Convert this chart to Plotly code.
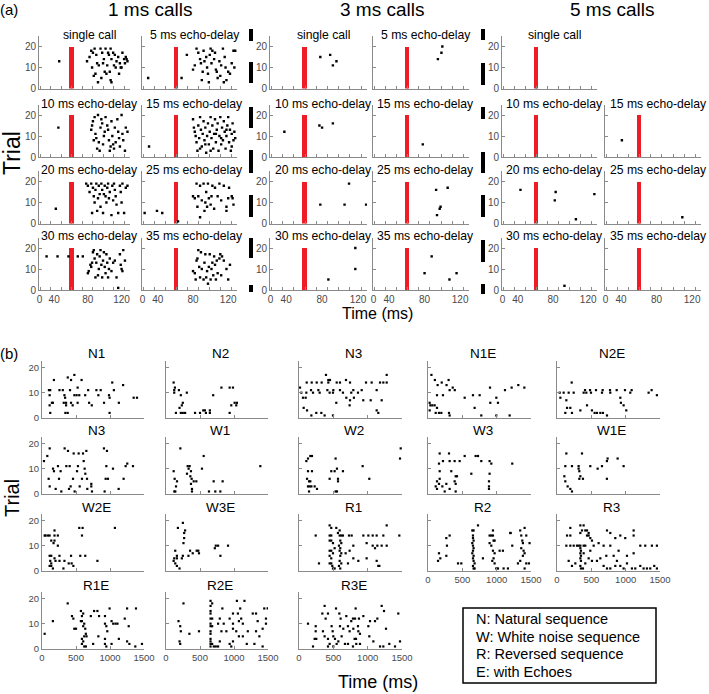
import plotly.graph_objects as go

# ---------------- DATA : panel (a) ----------------  (time in ms, trial number)
ms1_single = [(46,13),(79,13),(82,15),(84,18),(86,17),(88,19),(90,16),(91,12),(93,11),(95,19),(97,17),(99,14),(100,8),(102,7),(104,17),(105,16),(107,19),(108,14),(110,17),(111,11),(112,16),(114,13),(116,15),(118,12),(120,10),(121,17),(123,14),(125,15),(127,13),(87,6),(89,7),(92,3),(106,8),(107,4),(108,3),(98,12),(103,11),(117,7),(119,10),(124,12),(126,14),(96,5),(85,10),(113,10),(101,19)]
ms1_d5 = [(29,5),(67,5),(73,16),(80,9),(82,11),(84,19),(86,17),(88,14),(89,12),(90,4),(92,18),(93,13),(95,15),(96,10),(97,7),(98,3),(99,16),(101,12),(102,18),(104,14),(105,17),(106,9),(108,5),(110,13),(111,6),(112,11),(114,19),(116,15),(117,10),(118,4),(120,8),(122,7),(124,12),(126,18),(128,18),(127,10),(115,3),(107,8),(91,8),(100,19)]
ms1_d10 = [(45,14),(84,13),(85,15),(86,17),(88,19),(89,11),(90,9),(91,4),(92,20),(94,3),(95,14),(96,18),(97,16),(98,6),(99,10),(100,12),(101,19),(103,15),(104,13),(105,8),(106,3),(107,5),(108,17),(109,10),(110,6),(111,4),(112,14),(113,7),(115,18),(116,12),(117,9),(118,5),(120,20),(121,11),(122,8),(124,3),(125,14),(127,12),(87,8),(93,7)]
ms1_d15 = [(30,5),(80,18),(82,12),(83,10),(84,7),(85,3),(86,15),(87,9),(88,19),(89,13),(90,5),(91,11),(92,17),(93,8),(94,14),(95,2),(96,10),(97,16),(98,6),(99,12),(100,19),(101,9),(102,15),(103,4),(104,11),(105,18),(106,7),(107,13),(108,16),(109,3),(110,10),(111,19),(112,6),(113,14),(114,8),(115,17),(116,12),(117,4),(118,10),(119,15),(120,19),(121,7),(122,13),(123,3),(124,11),(125,16),(126,8),(127,12),(128,9),(81,14),(88,4),(94,6),(100,3),(106,11),(112,9),(118,13),(124,5)]
ms1_d20 = [(42,7),(78,19),(80,18),(82,15),(84,19),(86,17),(87,13),(88,10),(89,16),(90,19),(91,6),(92,12),(93,18),(94,14),(95,8),(96,19),(97,16),(98,5),(100,18),(101,13),(102,10),(103,17),(104,19),(105,12),(106,15),(108,4),(109,18),(110,11),(111,19),(112,16),(113,13),(114,9),(116,5),(118,18),(119,15),(120,10),(121,19),(123,5),(125,17),(127,18),(85,5),(99,14)]
ms1_d25 = [(25,5),(39,6),(45,5),(63,1),(80,13),(82,12),(84,19),(86,13),(88,18),(90,11),(92,19),(93,6),(94,10),(95,15),(96,8),(97,19),(98,12),(100,9),(101,13),(102,18),(104,7),(105,17),(108,13),(110,19),(112,11),(115,18),(118,6),(118,8),(120,12),(121,17),(124,13),(125,12),(126,9),(85,8),(88,3)]
ms1_d30 = [(31,16),(44,16),(57,16),(68,16),(74,16),(80,8),(81,9),(83,12),(84,11),(86,18),(87,19),(88,15),(89,6),(90,13),(91,17),(92,7),(93,10),(94,16),(95,19),(96,12),(97,6),(98,14),(99,18),(100,11),(101,8),(102,17),(103,13),(104,6),(106,15),(108,9),(110,13),(112,14),(114,6),(116,1),(118,17),(119,12),(120,10),(121,9),(122,19),(124,14),(85,13),(105,10)]
ms1_d35 = [(80,9),(82,8),(83,5),(84,14),(86,19),(87,11),(88,6),(89,18),(90,10),(92,5),(93,13),(94,17),(95,6),(96,9),(98,11),(99,17),(100,5),(102,13),(103,7),(104,16),(105,12),(106,5),(107,14),(108,8),(110,15),(111,17),(112,7),(113,16),(115,14),(118,10),(120,5),(122,12),(85,15),(97,3),(101,10)]

ms3_single = [(78,15),(89,16),(92,11),(96,13)]
ms3_d5 = [(95,14),(99,17),(100,20)]
ms3_d10 = [(38,12),(77,15),(80,14),(92,16)]
ms3_d15 = [(78,6)]
ms3_d20 = [(78,9),(105,9),(129,9),(110,19)]
ms3_d25 = [(93,16),(106,17),(98,8),(97,7),(94,4)]
ms3_d30 = [(117,20),(117,10),(87,5)]
ms3_d35 = [(88,16),(80,8),(108,5),(116,8)]

ms5_single = []
ms5_d10 = []
ms5_d15 = [(41,8)]
ms5_d20 = [(43,16),(83,15),(82,11),(106,2),(127,14)]
ms5_d25 = [(109,3)]
ms5_d30 = [(93,2)]
ms5_d35 = []

call_center_ms = 60.5      # emitted call marker (red bar)
call_width_ms = 5
call_height_trials = 20

a_group_titles = ["1 ms calls", "3 ms calls", "5 ms calls"]
a_x_ticktext = ["0", "40", "80", "120"]
a_x_tickvals = [22.5, 40, 80, 120]

# ---------------- DATA : panel (b) ----------------
bN1 = [(175,15),(379,16),(427,15),(476,17),(582,15),(102,11),(121,11),(257,11),(306,11),(412,11),(524,12),(679,11),(800,11),(863,11),(1033,14),(1057,11),(1193,13),(112,9),(146,6),(160,6),(112,5),(121,2),(330,9),(340,8),(354,6),(354,5),(320,6),(344,2),(378,2),(427,6),(451,5),(476,9),(509,9),(524,6),(548,9),(635,9),(693,6),(732,5),(829,9),(912,6),(985,9),(994,2),(994,8),(1130,6),(1348,8),(1397,8)]
bN2 = [(112,14),(121,11),(131,12),(190,11),(815,12),(936,12),(985,12),(121,10),(218,9),(247,6),(233,5),(199,4),(146,2),(218,2),(306,10),(247,2),(281,2),(427,2),(500,2),(548,3),(572,3),(587,2),(645,2),(645,3),(936,2),(960,5),(1033,5),(1009,6),(1043,6),(694,9)]
bN3 = [(112,14),(185,14),(258,14),(330,14),(427,14),(549,14),(597,14),(743,14),(976,14),(1058,14),(1180,14),(1228,14),(1277,14),(393,17),(427,15),(451,15),(684,15),(1277,17),(15,12),(175,11),(282,11),(413,11),(500,11),(597,11),(791,11),(913,11),(1131,11),(34,10),(107,10),(204,10),(301,10),(446,10),(495,10),(640,10),(761,10),(859,10),(58,8),(97,8),(68,4),(117,3),(180,1),(252,2),(325,2),(373,1),(495,1),(543,6),(689,8),(737,5),(800,8),(743,7),(936,7),(1044,7),(1204,7),(1131,3),(1155,2)]
bN1E = [(903,12),(1121,11),(1218,12),(1315,13),(1403,12),(131,9),(218,9),(315,11),(24,6),(34,5),(63,5),(97,5),(131,4),(24,3),(160,2),(112,2),(194,2),(315,1),(306,2),(534,8),(655,9),(752,9),(679,4),(907,6),(995,8),(1019,6),(776,1),(995,1),(1189,1),(50,17),(100,15),(200,14),(270,13),(300,15),(360,12),(390,11),(140,13)]
bN2E = [(214,14),(408,11),(481,11),(568,11),(665,11),(772,11),(869,11),(990,11),(1087,11),(1378,11),(39,10),(97,10),(170,10),(243,10),(388,10),(427,10),(495,10),(655,10),(776,10),(922,8),(931,6),(970,5),(1009,3),(49,8),(136,7),(146,4),(194,4),(121,2),(218,2),(340,3),(437,5),(509,3),(548,2),(582,2),(631,2),(669,2),(728,1),(1067,10),(1334,10),(1455,9)]
bN3b = [(29,13),(78,15),(113,18),(98,6),(113,3),(162,10),(176,9),(201,2),(235,11),(250,6),(274,9),(284,1),(333,18),(358,11),(382,17),(397,2),(407,11),(421,3),(456,6),(466,16),(480,1),(515,9),(529,11),(539,16),(554,3),(588,6),(603,16),(613,13),(627,10),(637,8),(652,17),(662,6),(666,2),(725,3),(735,1),(725,4),(911,18),(921,1),(936,6),(946,11),(955,17),(970,6),(1044,10),(1127,2),(1200,6),(1230,11),(1254,12),(1338,11)]
bW1 = [(211,18),(113,9),(127,6),(147,3),(162,5),(122,1),(137,1),(309,8),(319,11),(333,10),(348,11),(367,9),(358,7),(377,6),(367,4),(382,2),(382,1),(407,5),(446,5),(529,10),(554,15),(632,1),(701,5),(725,1),(799,1),(833,5),(1387,11)]
bW2 = [(107,13),(131,14),(165,15),(189,15),(131,9),(189,9),(117,6),(146,5),(165,5),(131,3),(155,3),(180,3),(146,1),(228,3),(262,2),(446,6),(470,9),(519,9),(533,14),(553,10),(568,6),(568,5),(533,1),(553,1),(640,9),(927,11),(1024,6),(1481,18),(1471,14)]
bW3 = [(170,16),(306,16),(160,12),(218,13),(315,13),(388,13),(461,13),(534,15),(694,15),(728,15),(776,13),(897,13),(922,12),(1227,12),(170,9),(339,9),(403,7),(422,7),(388,5),(170,6),(131,5),(112,3),(160,4),(209,3),(267,4),(315,2),(403,4),(131,2),(243,1),(403,1),(897,8),(888,5),(888,3),(888,2),(631,8)]
bW1E = [(136,16),(364,16),(121,11),(218,11),(315,11),(315,10),(325,9),(340,7),(378,6),(485,11),(592,10),(655,11),(727,13),(737,14),(883,14),(970,11),(727,6),(107,7),(121,5),(155,3),(194,2),(218,1),(325,6)]
bW2E = [(53,14),(112,14),(184,14),(136,12),(184,12),(170,11),(233,10),(112,6),(136,6),(121,4),(136,3),(112,2),(136,2),(160,1),(184,5),(199,4),(257,4),(257,6),(330,4),(393,3),(315,1),(427,6),(436,3),(461,2),(588,14),(563,6),(636,6),(815,4),(184,16),(233,14),(87,14),(548,17),(597,17),(1072,17),(39,14)]
bW3E = [(136,8),(160,6),(160,5),(112,4),(121,5),(136,3),(160,2),(199,1),(233,5),(248,6),(257,11),(267,13),(267,15),(281,16),(330,6),(354,8),(393,7),(451,8),(475,8),(485,7),(718,9),(732,10),(766,10),(800,6),(912,10),(248,19),(175,17)]
bR1 = [(243,14),(446,14),(470,14),(446,12),(470,12),(495,11),(519,9),(446,8),(470,8),(495,7),(446,6),(470,5),(446,3),(470,3),(485,2),(495,1),(519,1),(567,15),(592,14),(601,12),(616,11),(582,10),(601,9),(592,8),(616,7),(601,6),(592,4),(616,3),(582,2),(601,1),(679,7),(728,14),(737,8),(713,3),(291,3),(767,14),(937,14),(1010,14),(1073,14),(1131,14),(1228,14),(1461,14),(1277,10),(791,10),(985,11),(1073,10),(1141,10),(1204,10),(791,5),(864,4),(985,5),(1131,4),(1155,2),(1170,2),(1107,9),(446,18),(470,17),(543,17),(592,16),(616,14),(640,14),(1277,18)]
bR2 = [(267,13),(276,10),(160,7),(179,5),(146,4),(267,6),(437,3),(485,3),(645,16),(655,14),(655,13),(664,12),(645,11),(655,10),(664,9),(655,8),(645,7),(664,6),(655,5),(664,4),(679,3),(655,2),(664,1),(679,1),(800,5),(897,14),(922,14),(946,14),(955,12),(970,12),(897,11),(922,10),(946,8),(970,7),(955,5),(936,4),(970,3),(994,1),(1019,1),(1043,8),(1091,8),(1198,15),(1227,10),(1343,16),(1358,14),(1373,12),(1382,11),(1358,9),(1392,8),(1407,7),(1382,6),(1343,4),(1431,3),(1470,3),(1310,3),(1407,1),(1101,1),(1164,1),(1431,14),(1479,11),(728,18),(664,16),(946,16),(1407,17),(1203,15),(315,14)]
bR3 = [(194,14),(340,15),(364,16),(412,16),(437,14),(461,14),(485,13),(509,12),(146,14),(136,10),(194,10),(243,10),(291,10),(315,10),(340,10),(388,10),(412,10),(534,10),(606,11),(679,10),(776,10),(849,13),(922,14),(994,13),(1116,14),(1213,10),(1285,10),(1382,10),(1455,10),(340,9),(349,8),(340,7),(349,6),(340,5),(349,4),(340,2),(349,1),(378,1),(412,3),(461,5),(509,4),(582,4),(679,2),(728,1),(776,1),(849,2),(873,4),(922,2),(970,1),(1019,3),(1091,1),(1140,1),(1213,2),(1261,1),(1310,1),(1358,1),(1416,2),(1455,1),(170,4),(218,2),(267,3),(388,7),(485,8),(631,5),(718,6),(825,6),(897,8),(1019,6),(1116,7),(194,17),(340,18),(388,18),(437,16),(461,15),(728,16),(776,15),(1116,16)]
bR1E = [(378,18),(39,6),(160,11),(441,13),(461,12),(475,8),(500,8),(572,15),(587,13),(606,14),(572,11),(587,11),(621,10),(606,9),(636,8),(645,6),(621,5),(655,5),(587,4),(606,3),(587,2),(621,1),(645,1),(718,13),(766,15),(815,15),(839,13),(829,5),(752,2),(926,13),(994,16),(926,10),(946,9),(960,7),(926,4),(926,2),(946,1),(1023,11),(1047,10),(1081,10),(1110,10),(1023,2),(1130,4),(1217,12),(1251,16),(1275,9),(1251,3),(1285,2),(1382,16),(1372,1),(1470,2)]
bR2E = [(257,18),(184,11),(209,9),(218,7),(199,3),(209,2),(344,6),(485,7),(655,19),(655,17),(655,15),(655,14),(655,12),(655,10),(655,9),(655,7),(655,6),(655,4),(655,3),(655,2),(655,1),(679,18),(679,12),(679,9),(679,2),(703,1),(732,1),(766,1),(791,3),(791,12),(766,10),(829,16),(849,10),(815,7),(888,7),(985,8),(1072,5),(936,2),(960,1),(985,3),(1043,19),(1091,16),(1057,14),(1106,12),(1130,10),(936,12),(985,10),(1033,7),(1072,11),(985,14),(1130,5),(1154,19),(1276,14),(1324,7),(1348,11),(1373,5),(1421,8),(1470,12),(1495,16),(1445,16),(1324,14),(1203,7),(1300,2),(1188,2),(1421,1),(1470,10)]
bR3E = [(131,10),(243,9),(243,7),(252,4),(204,1),(228,4),(373,17),(340,14),(388,12),(422,14),(349,7),(373,5),(422,4),(446,2),(422,1),(475,9),(490,7),(500,5),(524,4),(548,2),(500,1),(539,16),(587,14),(606,12),(597,9),(645,8),(621,5),(573,3),(669,2),(689,13),(713,9),(737,7),(761,11),(786,12),(810,4),(834,2),(859,9),(873,12),(713,2),(786,1),(825,16),(816,12),(937,13),(1034,11),(1107,11),(1141,12),(1204,17),(1238,15),(1446,14),(791,8),(864,7),(888,6),(1010,9),(1267,8),(830,4),(888,2),(1024,5),(1083,3),(1180,1),(1228,1),(1315,2),(1398,1),(1471,3)]

b_x_ticks = [0, 500, 1000, 1500]
trial_ticks = [0, 10, 20]
legend_lines = ["N: Natural sequence", "W: White noise sequence", "R: Reversed sequence", "E: with Echoes"]

# ---------------- LAYOUT ----------------
W, H = 709, 694
FONT = "Liberation Sans, Arial, sans-serif"
GRAY = "#8a8a8a"
TICKC = "#4a4a4a"

def pxx(x): return x / W
def pxy(y): return 1 - y / H

fig = go.Figure()
layout = dict(width=W, height=H, margin=dict(l=0, r=0, t=0, b=0, autoexpand=False),
              paper_bgcolor="white", plot_bgcolor="white", showlegend=False,
              font=dict(family=FONT, color="black"), bargap=0)
annotations, shapes = [], []
counter = [0]

def add_panel(xpx, ybot, hpx, xr, yr, xcfg, ycfg, pts, msize, red=False):
    counter[0] += 1
    k = counter[0]
    s = "" if k == 1 else str(k)
    base = dict(showline=True, linecolor=GRAY, linewidth=1, showgrid=False, zeroline=False,
                ticks="inside", ticklen=3, tickcolor=GRAY, tickwidth=1, automargin=False,
                tickfont=dict(size=10, color=TICKC, family=FONT), fixedrange=True)
    xa = dict(base, domain=[pxx(xpx[0]), pxx(xpx[1])], range=xr, anchor="y" + s)
    ya = dict(base, domain=[pxy(ybot), pxy(ybot - hpx)], range=yr, anchor="x" + s)
    xa.update(xcfg); ya.update(ycfg)
    layout["xaxis" + s] = xa
    layout["yaxis" + s] = ya
    if red:
        fig.add_trace(go.Bar(x=[call_center_ms], y=[call_height_trials], width=[call_width_ms],
                             marker=dict(color="#ee1c25", line=dict(width=0)),
                             xaxis="x" + s, yaxis="y" + s, hoverinfo="skip"))
    if pts:
        fig.add_trace(go.Scatter(x=[p[0] for p in pts], y=[p[1] for p in pts], mode="markers",
                                 marker=dict(symbol="square", size=msize, color="black", line=dict(width=0)),
                                 xaxis="x" + s, yaxis="y" + s, hoverinfo="skip"))
    else:
        fig.add_trace(go.Scatter(x=[None], y=[None], mode="markers", xaxis="x" + s, yaxis="y" + s))

def text(x, y, t, size, **kw):
    d = dict(x=pxx(x), y=pxy(y), xref="paper", yref="paper", text=t, showarrow=False,
             font=dict(size=size, family=FONT, color=kw.pop("color", "black")),
             xanchor=kw.pop("xanchor", "center"), yanchor=kw.pop("yanchor", "middle"))
    d.update(kw)
    annotations.append(d)

# ---- panel (a)
a_cols = [(39, 130), (142, 237), (270, 367), (373, 469), (502, 597), (605, 701)]
a_bottoms = [88.5, 157, 223.5, 290]
a_h = 52.5
a_grid = [
    [("single call", ms1_single), ("5 ms echo-delay", ms1_d5), ("single call", ms3_single), ("5 ms echo-delay", ms3_d5), ("single call", ms5_single), None],
    [("10 ms echo-delay", ms1_d10), ("15 ms echo-delay", ms1_d15), ("10 ms echo-delay", ms3_d10), ("15 ms echo-delay", ms3_d15), ("10 ms echo-delay", ms5_d10), ("15 ms echo-delay", ms5_d15)],
    [("20 ms echo-delay", ms1_d20), ("25 ms echo-delay", ms1_d25), ("20 ms echo-delay", ms3_d20), ("25 ms echo-delay", ms3_d25), ("20 ms echo-delay", ms5_d20), ("25 ms echo-delay", ms5_d25)],
    [("30 ms echo-delay", ms1_d30), ("35 ms echo-delay", ms1_d35), ("30 ms echo-delay", ms3_d30), ("35 ms echo-delay", ms3_d35), ("30 ms echo-delay", ms5_d30), ("35 ms echo-delay", ms5_d35)],
]
for r, row in enumerate(a_grid):
    for c, cell in enumerate(row):
        if cell is None:
            continue
        title, pts = cell
        xcfg = dict(tickmode="array", tickvals=a_x_tickvals, ticktext=a_x_ticktext, ticks="",
                    showticklabels=(r == 3),
                    minor=dict(ticks="inside", ticklen=3, tickcolor=GRAY, tickmode="linear", tick0=36, dtick=12.5, showgrid=False))
        ycfg = dict(tickmode="array", tickvals=trial_ticks, showticklabels=(c % 2 == 0))
        add_panel(a_cols[c], a_bottoms[r], a_h, [22, 130], [0, 25], xcfg, ycfg, pts, 2.4, red=True)
        text((a_cols[c][0] + a_cols[c][1]) / 2 + 5, a_bottoms[r] - a_h - 1, title, 12.2)

for i, t in enumerate(a_group_titles):
    text([150, 382, 612][i], 9.5, t, 19)
text(9, 9, "(a)", 15)
text(12, 153, "Trial", 23, textangle=-90)
text(378, 313, "Time (ms)", 16)

# cropped-figure artefacts (black bars between the call-duration blocks)
bar_rows_left = [(29, 41), (62, 83), (107, 128), (150, 173), (195, 217), (238, 258), (285, 292)]
bar_rows_right = [(29, 40), (63, 85), (107, 119), (152, 173), (195, 217), (240, 262), (284, 294)]
for (y0, y1) in bar_rows_left:
    shapes.append(dict(type="rect", xref="paper", yref="paper", x0=pxx(249), x1=pxx(253), y0=pxy(y1), y1=pxy(y0), fillcolor="black", line=dict(width=0)))
for (y0, y1) in bar_rows_right:
    shapes.append(dict(type="rect", xref="paper", yref="paper", x0=pxx(481), x1=pxx(485), y0=pxy(y1), y1=pxy(y0), fillcolor="black", line=dict(width=0)))

# ---- panel (b)
b_cols = [(42, 144), (166, 268), (299, 402), (428, 531), (557, 660)]
b_bottoms = [418, 494, 571, 649]
b_h = 57
b_grid = [
    [("N1", bN1), ("N2", bN2), ("N3", bN3), ("N1E", bN1E), ("N2E", bN2E)],
    [("N3", bN3b), ("W1", bW1), ("W2", bW2), ("W3", bW3), ("W1E", bW1E)],
    [("W2E", bW2E), ("W3E", bW3E), ("R1", bR1), ("R2", bR2), ("R3", bR3)],
    [("R1E", bR1E), ("R2E", bR2E), ("R3E", bR3E), None, None],
]
for r, row in enumerate(b_grid):
    for c, cell in enumerate(row):
        if cell is None:
            continue
        title, pts = cell
        bottom_row = (r == 3) or (r == 2 and c >= 3)
        xcfg = dict(tickmode="array", tickvals=b_x_ticks, showticklabels=bottom_row,
                    tickfont=dict(size=9.5, color=TICKC, family=FONT))
        ycfg = dict(tickmode="array", tickvals=trial_ticks, showticklabels=(c == 0),
                    tickfont=dict(size=9.5, color=TICKC, family=FONT))
        add_panel(b_cols[c], b_bottoms[r], b_h, [0, 1500], [0, 22.5], xcfg, ycfg, pts, 2.2)
        text((b_cols[c][0] + b_cols[c][1]) / 2 + 3, b_bottoms[r] - b_h - 7, title, 13.5)

text(9, 353, "(b)", 15)
text(12, 498, "Trial", 20, textangle=-90)
text(378, 682, "Time (ms)", 18)

shapes.append(dict(type="rect", xref="paper", yref="paper", x0=pxx(463), x1=pxx(656), y0=pxy(683), y1=pxy(608),
                   line=dict(color="black", width=1.5), fillcolor="rgba(0,0,0,0)"))
for i, t in enumerate(legend_lines):
    text(474, 619 + i * 17.7, t, 14.5, xanchor="left")

layout["annotations"] = annotations
layout["shapes"] = shapes
fig.update_layout(**layout)
fig.write_html("out.html", config={"displayModeBar": False, "staticPlot": True},
               post_script="document.body.style.margin='0';document.body.style.padding='0';document.body.style.overflow='hidden';")
